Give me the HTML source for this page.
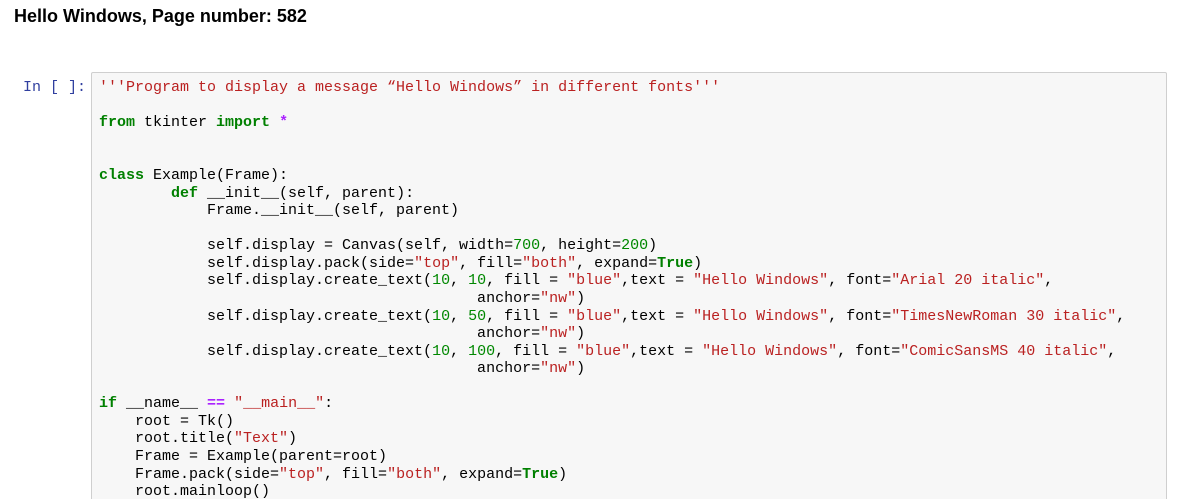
<!DOCTYPE html>
<html style="overflow:hidden;height:499px"><head><meta charset="utf-8"><style>
body{margin:0;background:#fff;width:1178px;height:499px;overflow:hidden;position:relative;font-family:"Liberation Sans",sans-serif}
h1{position:absolute;left:14px;top:6px;margin:0;font-size:18px;font-weight:bold;color:#000}
.prompt{position:absolute;left:23px;top:79px;font:15px/17.56px "Liberation Mono",monospace;color:#303F9F}
.box{position:absolute;left:91px;top:72px;width:1074px;height:440px;background:#f7f7f7;border:1px solid #cfcfcf;border-radius:2px}
pre{position:absolute;left:99px;top:79.2px;margin:0;font:15px/17.56px "Liberation Mono",monospace;color:#000}
.k{color:#008000;font-weight:bold}.s{color:#BA2121}.n{color:#008800}.o{color:#AA22FF;font-weight:bold}
</style></head><body>
<h1>Hello Windows, Page number: 582</h1>
<div class="prompt">In [ ]:</div>
<div class="box"></div>
<pre><span class="s">'''Program to display a message “Hello Windows” in different fonts'''</span>

<span class="k">from</span> tkinter <span class="k">import</span> <span class="o">*</span>


<span class="k">class</span> Example(Frame):
        <span class="k">def</span> __init__(self, parent):
            Frame.__init__(self, parent)

            self.display = Canvas(self, width=<span class="n">700</span>, height=<span class="n">200</span>)
            self.display.pack(side=<span class="s">"top"</span>, fill=<span class="s">"both"</span>, expand=<span class="k">True</span>)
            self.display.create_text(<span class="n">10</span>, <span class="n">10</span>, fill = <span class="s">"blue"</span>,text = <span class="s">"Hello Windows"</span>, font=<span class="s">"Arial 20 italic"</span>,
                                          anchor=<span class="s">"nw"</span>)
            self.display.create_text(<span class="n">10</span>, <span class="n">50</span>, fill = <span class="s">"blue"</span>,text = <span class="s">"Hello Windows"</span>, font=<span class="s">"TimesNewRoman 30 italic"</span>,
                                          anchor=<span class="s">"nw"</span>)
            self.display.create_text(<span class="n">10</span>, <span class="n">100</span>, fill = <span class="s">"blue"</span>,text = <span class="s">"Hello Windows"</span>, font=<span class="s">"ComicSansMS 40 italic"</span>,
                                          anchor=<span class="s">"nw"</span>)

<span class="k">if</span> __name__ <span class="o">==</span> <span class="s">"__main__"</span>:
    root = Tk()
    root.title(<span class="s">"Text"</span>)
    Frame = Example(parent=root)
    Frame.pack(side=<span class="s">"top"</span>, fill=<span class="s">"both"</span>, expand=<span class="k">True</span>)
    root.mainloop()</pre>
</body></html>
